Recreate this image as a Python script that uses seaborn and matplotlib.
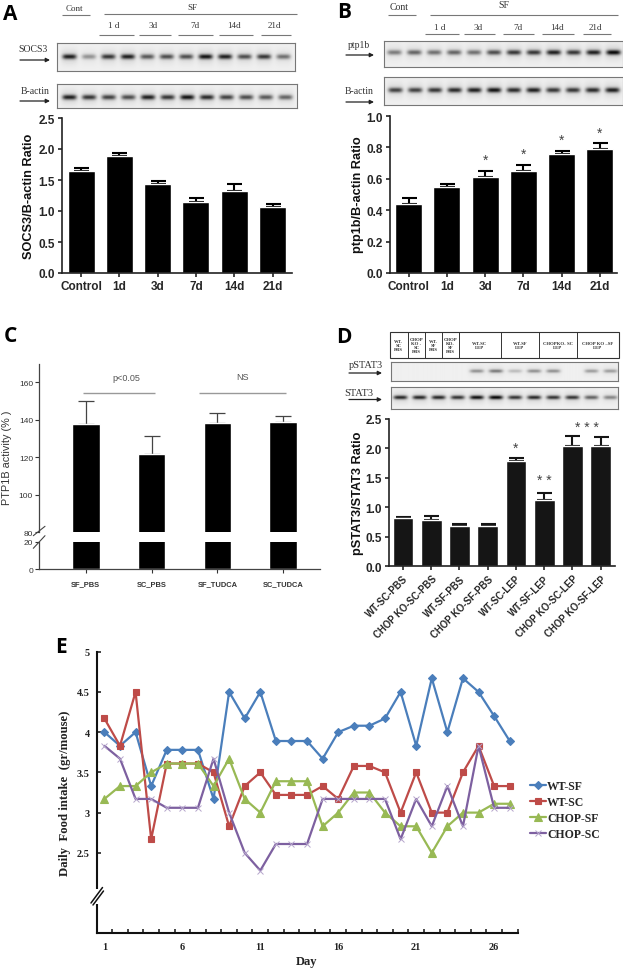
import numpy as np
import pandas as pd
import matplotlib
matplotlib.use("Agg")
import matplotlib.pyplot as plt
import seaborn as sns

W, H = 623, 970

# Panel A
days = ["Control", "1d", "3d", "7d", "14d", "21d"]
socs3_mean = [1.64, 1.88, 1.43, 1.14, 1.33, 1.07]
socs3_top = [1.69, 1.93, 1.48, 1.21, 1.44, 1.11]
socs3_band = [0.9, 0.4, 0.8, 0.9, 0.65, 0.7, 0.7, 0.95, 0.9, 0.7, 0.8, 0.55]
actin_a_band = [0.9, 0.8, 0.75, 0.7, 0.9, 0.8, 0.95, 0.85, 0.75, 0.7, 0.65, 0.6]

# Panel B
ptp1b_mean = [0.44, 0.55, 0.61, 0.65, 0.755, 0.79]
ptp1b_top = [0.48, 0.57, 0.65, 0.69, 0.78, 0.825]
ptp1b_stars = [None, None, 0.72, 0.76, 0.85, 0.895]
ptp1b_band = [0.5, 0.6, 0.55, 0.6, 0.55, 0.7, 0.8, 0.8, 0.9, 0.8, 0.9, 1.0]
actin_b_band = [0.75, 0.75, 0.8, 0.85, 0.9, 0.95, 0.85, 0.9, 0.8, 0.8, 0.85, 0.9]

# Panel C
ptp_groups = ["SF_PBS", "SC_PBS", "SF_TUDCA", "SC_TUDCA"]
ptp_mean = [138, 122, 138.5, 139]
ptp_top = [150, 131.5, 143.5, 142]

# Panel D
stat_groups = ["WT-SC-PBS", "CHOP KO-SC-PBS", "WT-SF-PBS", "CHOP KO-SF-PBS",
               "WT-SC-LEP", "WT-SF-LEP", "CHOP KO-SC-LEP", "CHOP KO-SF-LEP"]
stat_mean = [0.82, 0.79, 0.69, 0.68, 1.78, 1.13, 2.05, 2.05]
stat_top = [0.84, 0.86, 0.72, 0.71, 1.83, 1.24, 2.21, 2.19]
pstat_band = [0, 0, 0, 0, 0.4, 0.5, 0.22, 0.4, 0.4, 0, 0.35, 0.35]
stat_band = [0.85, 0.85, 0.85, 0.8, 0.95, 1.0, 0.8, 0.85, 0.8, 0.8, 0.6, 0.45]

# Panel E
day_no = list(range(1, 28))
wt_sf = [4.0, 3.83, 4.0, 3.33, 3.78, 3.78, 3.78, 3.17, 4.5, 4.17, 4.5, 3.89, 3.89, 3.89,
         3.67, 4.0, 4.08, 4.08, 4.17, 4.5, 3.83, 4.67, 4.0, 4.67, 4.5, 4.2, 3.89]
wt_sc = [4.17, 3.83, 4.5, 2.67, 3.61, 3.61, 3.61, 3.5, 2.83, 3.33, 3.5, 3.22, 3.22, 3.22,
         3.33, 3.17, 3.58, 3.58, 3.5, 3.0, 3.5, 3.0, 3.0, 3.5, 3.83, 3.33, 3.33]
chop_sf = [3.17, 3.33, 3.33, 3.5, 3.61, 3.61, 3.61, 3.33, 3.67, 3.17, 3.0, 3.39, 3.39, 3.39,
           2.83, 3.0, 3.25, 3.25, 3.0, 2.83, 2.83, 2.5, 2.83, 3.0, 3.0, 3.11, 3.11]
chop_sc = [3.83, 3.67, 3.17, 3.17, 3.06, 3.06, 3.06, 3.67, 3.0, 2.5, 2.28, 2.61, 2.61, 2.61,
           3.17, 3.17, 3.17, 3.17, 3.17, 2.67, 3.17, 2.83, 3.33, 2.83, 3.83, 3.06, 3.06]

sns.set_style("ticks")
plt.rcParams["font.family"] = ["Liberation Sans", "DejaVu Sans"]
fig = plt.figure(figsize=(W / 100, H / 100), dpi=100)


def px_axes(left, top, right, bottom):
    # axes from a pixel box, y measured from the top of the picture
    return fig.add_axes([left / W, 1 - bottom / H, (right - left) / W, (bottom - top) / H])


# overlay in picture pixels for labels, arrows and rules
over = fig.add_axes([0, 0, 1, 1], zorder=10)
over.set_xlim(0, W)
over.set_ylim(H, 0)
over.axis("off")
over.patch.set_alpha(0)


def label(x, y, s, size=6.5, weight="normal", family="Liberation Serif", color="#333333", **kw):
    kw.setdefault("ha", "center")
    over.text(x, y, s, fontsize=size, fontweight=weight, family=family, color=color, va="center", **kw)


def rule(x0, x1, y, color="#777777", lw=0.8):
    over.plot([x0, x1], [y, y], color=color, lw=lw, solid_capstyle="butt")


def arrow(x0, x1, y):
    over.annotate("", xy=(x1, y), xytext=(x0, y),
                  arrowprops=dict(arrowstyle="-|>", color="#222222", lw=0.9, mutation_scale=6, shrinkA=0, shrinkB=0))


def blot(box, bands, pad=9, band_h=2.5, y_frac=0.5):
    # western blot strip, darkness of each lane comes from the band list
    ax = px_axes(*box)
    w, h = int(box[2] - box[0]), int(box[3] - box[1])
    xx, yy = np.meshgrid(np.arange(w), np.arange(h))
    step = (w - 2 * pad) / (len(bands) - 1)
    img = np.zeros((h, w))
    for i, d in enumerate(bands):
        cx = pad + i * step
        img += d * np.exp(-((xx - cx) / (step * 0.36)) ** 4 - ((yy - h * y_frac) / band_h) ** 2)
        img += 0.15 * d * np.exp(-((xx - cx) / (step * 0.44)) ** 4 - ((yy - h * y_frac) / (band_h * 3)) ** 2)
    ax.imshow(np.clip(0.94 - 0.78 * img, 0, 1), cmap="gray", vmin=0, vmax=1, aspect="auto")
    ax.set_xticks([])
    ax.set_yticks([])
    for s in ax.spines.values():
        s.set_color("#777777")
        s.set_linewidth(0.8)


def bars(ax, names, mean, top, width, color="black", ecolor="black", lw=1.5, cap=5.4):
    sns.barplot(x=names, y=mean, color=color, saturation=1, width=width, ax=ax, zorder=2)
    lower = [0] * len(mean)
    upper = [t - m for t, m in zip(top, mean)]
    ax.errorbar(range(len(mean)), mean, yerr=[lower, upper], fmt="none", ecolor=ecolor,
                elinewidth=lw, capsize=cap, capthick=lw, zorder=1)
    sns.despine(ax=ax)


def style_bold(ax):
    ax.tick_params(axis="both", width=1.2, length=3, pad=2, labelsize=8.5)
    for t in ax.get_xticklabels() + ax.get_yticklabels():
        t.set_fontweight("bold")
    for s in ("left", "bottom"):
        ax.spines[s].set_linewidth(1.2)
        ax.spines[s].set_color("#222222")
    ax.set_xlabel("")
    ax.set_ylabel("")


# ---- A
label(10, 15, "A", size=15, weight="bold", family="Open Sans", color="black")
label(74.5, 9, "Cont")
rule(62, 90, 15.5)
label(192.5, 8, "SF")
rule(104, 297, 15)
for name, x, a, b in [("1 d", 114, 99, 134), ("3d", 153, 139, 171), ("7d", 195, 178, 213),
                      ("14d", 234, 219, 253), ("21d", 274, 261, 291)]:
    label(x, 26, name)
    rule(a, b, 36)
label(33, 49, "SOCS3", size=7)
arrow(20, 50, 61)
label(35, 91, "B-actin", size=7)
arrow(20, 50, 102)
blot((57, 44, 295, 72), socs3_band, pad=12, y_frac=0.47)
blot((57, 85, 297, 109), actin_a_band, pad=12, y_frac=0.53)

ax = px_axes(62, 119, 292, 274)
bars(ax, days, socs3_mean, socs3_top, 27 / 38.3)
ax.set_xlim(-19 / 38.3, 5 + 19.5 / 38.3)
ax.set_ylim(0, 2.5)
ax.set_yticks([0, 0.5, 1.0, 1.5, 2.0, 2.5])
ax.set_yticklabels(["0.0", "0.5", "1.0", "1.5", "2.0", "2.5"])
style_bold(ax)
label(29, 196, "SOCS3/B-actin Ratio", size=9.2, weight="bold", family="Liberation Sans", color="#111111", rotation=90)

# ---- B
label(344, 13, "B", size=15, weight="bold", family="Open Sans", color="black")
label(399.5, 7, "Cont", size=7)
rule(388, 416, 15.5)
label(503.5, 5, "SF", size=7)
rule(430, 618, 15.5)
for name, x, a, b in [("1 d", 440, 425, 459), ("3d", 478, 464, 495), ("7d", 518, 503, 534),
                      ("14d", 557, 542, 574), ("21d", 595, 583, 611)]:
    label(x, 28, name)
    rule(a, b, 35)
label(359, 46, "ptp1b", size=7)
arrow(346, 374, 56)
label(359, 92, "B-actin", size=7)
arrow(346, 374, 103)
blot((384, 42, 623, 68), ptp1b_band, pad=10, y_frac=0.42)
blot((384, 78, 623, 106), actin_b_band, pad=11, y_frac=0.45)

ax = px_axes(389.7, 117, 617, 274)
bars(ax, days, ptp1b_mean, ptp1b_top, 27 / 38.2)
ax.set_xlim(-19 / 38.2, 5 + 17 / 38.2)
ax.set_ylim(0, 1.0)
ax.set_yticks([0, 0.2, 0.4, 0.6, 0.8, 1.0])
ax.set_yticklabels(["0.0", "0.2", "0.4", "0.6", "0.8", "1.0"])
style_bold(ax)
for i, s in enumerate(ptp1b_stars):
    if s is not None:
        ax.text(i, s, "*", ha="center", va="center", fontsize=10, color="#444444")
label(357.7, 195, "ptp1b/B-actin Ratio", size=9.2, weight="bold", family="Liberation Sans", color="#111111", rotation=90)

# ---- C (broken axis)
label(10, 337, "C", size=15, weight="bold", family="Open Sans", color="black")
xl = (-46.4 / 65.9, 3 + 36.7 / 65.9)
top_ax = px_axes(39.3, 365, 320, 533.3)
low_ax = px_axes(39.3, 542.7, 320, 570.3)
for ax in (top_ax, low_ax):
    bars(ax, ptp_groups, ptp_mean, ptp_top, 27.7 / 65.9, ecolor="#444444", lw=0.9, cap=6)
    ax.set_xlim(*xl)
    ax.set_xlabel("")
    ax.set_ylabel("")
    for s in ("left", "bottom"):
        ax.spines[s].set_color("#444444")
        ax.spines[s].set_linewidth(0.9)
top_ax.set_ylim(80, 169.8)
top_ax.set_yticks([80, 100, 120, 140, 160])
top_ax.spines["bottom"].set_visible(False)
top_ax.tick_params(axis="x", length=0, labelbottom=False)
top_ax.tick_params(axis="y", labelsize=6, width=0.8, length=3, pad=1.5, colors="#333333")
low_ax.set_ylim(0, 20)
low_ax.set_yticks([0, 20])
low_ax.tick_params(axis="y", labelsize=6, width=0.8, length=3, pad=1.5, colors="#333333")
low_ax.tick_params(axis="x", labelsize=5.4, width=0.8, length=3, pad=5, colors="#333333")
for t in low_ax.get_xticklabels():
    t.set_fontweight("bold")
over.plot([33.3, 45], [536.7, 527.3], color="#444444", lw=0.8)
over.plot([33.3, 45], [549.3, 536.7], color="#444444", lw=0.8)
rule(83.3, 155.3, 394, color="#999999", lw=1)
rule(199.3, 286, 394, color="#999999", lw=1)
label(126.5, 379, "p<0.05", size=6.5, family="Liberation Sans", color="#555555")
label(242.5, 378, "NS", size=6.5, family="Liberation Sans", color="#555555")
label(7.3, 458, "PTP1B activity (% )", size=7.8, family="Liberation Sans", color="#333333", rotation=90)

# ---- D
label(344, 338, "D", size=15, weight="bold", family="Open Sans", color="black")
over.add_patch(plt.Rectangle((390, 333.3), 229, 25.7, fill=False, ec="#333333", lw=0.8))
for x in [407.7, 425, 441.7, 459, 501, 538.7, 576.7]:
    over.plot([x, x], [333.3, 359], color="#333333", lw=0.7)
for x, s in [(398.8, "WT-\nSC\nPBS"), (416.3, "CHOP\nKO -\nSC\nPBS"), (433.3, "WT-\nSF\nPBS"),
             (450.3, "CHOP\nKO-\nSF\nPBS"), (480, "WT-SC\nLEP"), (520, "WT-SF\nLEP"),
             (557.7, "CHOPKO- SC\nLEP"), (597.5, "CHOP KO \u2013SF\nLEP")]:
    label(x, 346, s, size=3.4, weight="bold", linespacing=1.05)
label(366, 366, "pSTAT3", size=7.5)
arrow(349, 382, 374)
label(359, 394, "STAT3", size=7.5)
arrow(349, 382, 400.5)
blot((390.7, 363, 618, 382), pstat_band, pad=9, band_h=1.8, y_frac=0.45)
blot((390.7, 388, 618, 410), stat_band, pad=9, band_h=2.0, y_frac=0.45)

ax = px_axes(389, 420, 615, 567.3)
bars(ax, stat_groups, stat_mean, stat_top, 20.7 / 28.25, color="#151515", ecolor="#151515")
ax.set_xlim(-14 / 28.25, 7 + 14.3 / 28.25)
ax.set_ylim(0, 2.5)
ax.set_yticks([0, 0.5, 1.0, 1.5, 2.0, 2.5])
ax.set_yticklabels(["0.0", "0.5", "1.0", "1.5", "2.0", "2.5"])
style_bold(ax)
ax.tick_params(axis="x", labelsize=6.9)
for t in ax.get_xticklabels():
    t.set_rotation(45)
    t.set_ha("right")
    t.set_rotation_mode("anchor")
ax.text(4, 2.02, "*", ha="center", va="center", fontsize=10, color="#444444")
ax.text(5, 1.46, "* *", ha="center", va="center", fontsize=10, color="#444444")
ax.text(6.5, 2.37, "* * *", ha="center", va="center", fontsize=10, color="#444444")
label(358, 493, "pSTAT3/STAT3 Ratio", size=9.2, weight="bold", family="Liberation Sans", color="#111111", rotation=90)

# ---- E
label(60.7, 648, "E", size=15, weight="bold", family="Open Sans", color="black")
ax = px_axes(96.6, 652.7, 518.3, 934.3)
series = [("WT-SF", wt_sf, "#4A7EBB", "#4A7EBB", "D", 4.2, 0.8), ("WT-SC", wt_sc, "#BE4B48", "#BE4B48", "s", 4.8, 0.8),
          ("CHOP-SF", chop_sf, "#98B954", "#98B954", "^", 5.2, 0.8), ("CHOP-SC", chop_sc, "#7D60A0", "#B5A5CC", "x", 5, 0.7)]
for name, vals, col, edge, mk, ms, mew in series:
    df = pd.DataFrame({"day": day_no, "intake": vals})
    sns.lineplot(data=df, x="day", y="intake", color=col, marker=mk, markersize=ms, lw=1.6,
                 markeredgecolor=edge, markeredgewidth=mew, errorbar=None, label=name, ax=ax, clip_on=False)
ax.set_xlim(0.5, 27.55)
ax.set_ylim(1.5, 5)
ax.set_yticks([2.5, 3, 3.5, 4, 4.5, 5])
ax.set_yticklabels(["2.5", "3", "3.5", "4", "4.5", "5"])
ax.set_xticks([1, 6, 11, 16, 21, 26])
ax.set_xticks(np.arange(1.5, 27.6, 1), minor=True)
ax.tick_params(axis="x", which="major", length=0, pad=6)
ax.tick_params(axis="x", which="minor", direction="in", length=3, width=1.1, color="#111111")
ax.tick_params(axis="y", direction="in", length=3, width=1.1, pad=5, color="#111111")
for t in ax.get_xticklabels() + ax.get_yticklabels():
    t.set_family("Liberation Serif")
    t.set_fontweight("bold")
    t.set_fontsize(7.4)
    t.set_color("#222222")
sns.despine(ax=ax)
for s in ("left", "bottom"):
    ax.spines[s].set_linewidth(1.5)
    ax.spines[s].set_color("#111111")
ax.set_xlabel("")
ax.set_ylabel("")
ax.legend(loc="center left", bbox_to_anchor=(530.0 / W, 1 - 811 / H), bbox_transform=fig.transFigure,
          frameon=False, handlelength=1.35, handletextpad=0.1, labelspacing=0.35, borderpad=0, borderaxespad=0,
          prop={"family": "Liberation Serif", "weight": "bold", "size": 8.5})
over.add_patch(plt.Rectangle((94, 890), 5, 15, color="white", lw=0))
over.plot([91, 102.5], [904, 888.5], color="#111111", lw=1.1)
over.plot([93, 103.5], [906, 892], color="#111111", lw=1.1)
label(65, 793, "Daily  Food intake  (gr/mouse)", size=9.2, weight="bold", color="#222222", rotation=90)
label(307, 962, "Day", size=9, weight="bold", color="#222222")

fig.savefig("out.png", dpi=100)
